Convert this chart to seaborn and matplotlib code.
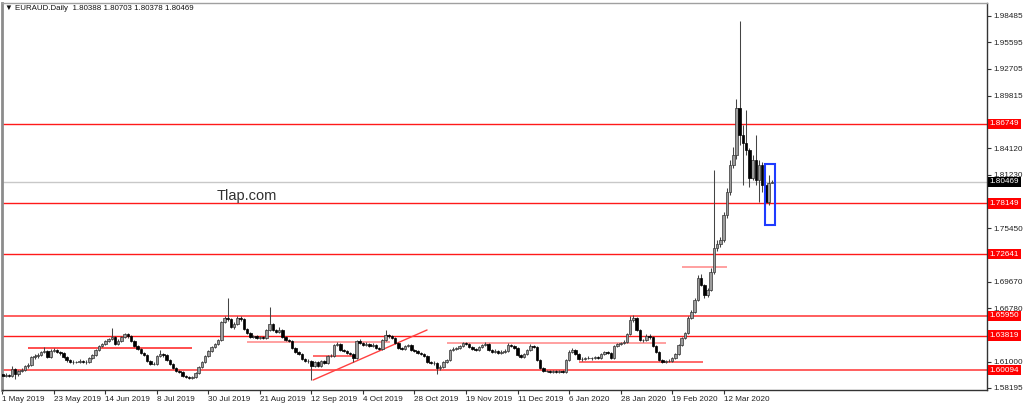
import numpy as np
import pandas as pd
import seaborn as sns
import matplotlib
matplotlib.use("Agg")
import matplotlib.pyplot as plt
import matplotlib.transforms as mtransforms
from matplotlib.patches import Rectangle

# daily closes, EURAUD (open = previous close)
first_open = 1.5966
close = [
    1.5944, 1.5955, 1.5944, 1.6020, 1.5966, 1.5998, 1.6009, 1.6053, 1.6063, 1.6150,
    1.6161, 1.6172, 1.6204, 1.6215, 1.6150, 1.6215, 1.6226, 1.6204, 1.6193, 1.6150,
    1.6118, 1.6096, 1.6096, 1.6096, 1.6107, 1.6096, 1.6096, 1.6139, 1.6172, 1.6226,
    1.6269, 1.6291, 1.6323, 1.6345, 1.6367, 1.6291, 1.6323, 1.6367, 1.6399, 1.6378,
    1.6323, 1.6269, 1.6237, 1.6193, 1.6172, 1.6107, 1.6074, 1.6074, 1.6161, 1.6183,
    1.6172, 1.6118, 1.6074, 1.6031, 1.5998, 1.5988, 1.5944, 1.5934, 1.5923, 1.5934,
    1.5977, 1.6042, 1.6096, 1.6161, 1.6215, 1.6258, 1.6291, 1.6334, 1.6530, 1.6573,
    1.6562, 1.6475, 1.6508, 1.6573, 1.6562, 1.6453, 1.6410, 1.6367, 1.6378, 1.6356,
    1.6367, 1.6356, 1.6443, 1.6508, 1.6443, 1.6421, 1.6443, 1.6367, 1.6334, 1.6323,
    1.6248, 1.6204, 1.6183, 1.6128, 1.6107, 1.6107, 1.6053, 1.6096, 1.6053, 1.6107,
    1.6085, 1.6161, 1.6161, 1.6280, 1.6291, 1.6226, 1.6215, 1.6193, 1.6183, 1.6139,
    1.6323, 1.6302, 1.6280, 1.6291, 1.6269, 1.6280, 1.6248, 1.6237, 1.6334, 1.6388,
    1.6378, 1.6356, 1.6302, 1.6248, 1.6237, 1.6269, 1.6280, 1.6226, 1.6215, 1.6193,
    1.6183, 1.6161, 1.6096, 1.6085, 1.6085, 1.6031, 1.6042, 1.6096, 1.6118, 1.6226,
    1.6237, 1.6248, 1.6269, 1.6302, 1.6291, 1.6258, 1.6237, 1.6226, 1.6258, 1.6280,
    1.6291, 1.6226, 1.6204, 1.6215, 1.6193, 1.6204, 1.6215, 1.6280, 1.6269, 1.6248,
    1.6172, 1.6150, 1.6183, 1.6226, 1.6269, 1.6258, 1.6118, 1.6031, 1.5998, 1.5998,
    1.5988, 1.5998, 1.5988, 1.5998, 1.5988, 1.6118, 1.6204, 1.6226, 1.6183, 1.6128,
    1.6128, 1.6139, 1.6139, 1.6139, 1.6150, 1.6139, 1.6183, 1.6204, 1.6193, 1.6139,
    1.6269, 1.6291, 1.6302, 1.6313, 1.6399, 1.6551, 1.6573, 1.6443, 1.6334, 1.6334,
    1.6378, 1.6367, 1.6269, 1.6204, 1.6118, 1.6096, 1.6107, 1.6107, 1.6139, 1.6183,
    1.6280, 1.6356, 1.6410, 1.6573, 1.6638, 1.6767, 1.7006, 1.6930, 1.6822, 1.6876,
    1.7071, 1.7331, 1.7375, 1.7417, 1.7688, 1.7937, 1.8229, 1.8338, 1.8847, 1.8554,
    1.8468, 1.8392, 1.8089, 1.8284, 1.8067, 1.8229, 1.8013, 1.7829, 1.80388, 1.80469,
]
high = [
    1.5985, 1.5975, 1.5970, 1.6050, 1.6032, 1.6015, 1.6030, 1.6068, 1.6085, 1.6165,
    1.6180, 1.6195, 1.6220, 1.6255, 1.6230, 1.6235, 1.6245, 1.6240, 1.6218, 1.6205,
    1.6160, 1.6130, 1.6115, 1.6112, 1.6125, 1.6120, 1.6118, 1.6150, 1.6185, 1.6240,
    1.6280, 1.6305, 1.6335, 1.6360, 1.6464, 1.6375, 1.6340, 1.6380, 1.6415, 1.6410,
    1.6385, 1.6330, 1.6280, 1.6245, 1.6205, 1.6180, 1.6115, 1.6095, 1.6175, 1.6226,
    1.6195, 1.6180, 1.6125, 1.6085, 1.6040, 1.6010, 1.5995, 1.5955, 1.5945, 1.5948,
    1.5990, 1.6055, 1.6110, 1.6172, 1.6228, 1.6270, 1.6305, 1.6350, 1.6545, 1.6595,
    1.6789, 1.6575, 1.6525, 1.6595, 1.6590, 1.6570, 1.6465, 1.6420, 1.6392, 1.6388,
    1.6380, 1.6378, 1.6455, 1.6692, 1.6520, 1.6455, 1.6470, 1.6452, 1.6375, 1.6345,
    1.6330, 1.6255, 1.6215, 1.6190, 1.6140, 1.6125, 1.6115, 1.6110, 1.6105, 1.6120,
    1.6118, 1.6172, 1.6180, 1.6295, 1.6310, 1.6300, 1.6240, 1.6228, 1.6205, 1.6190,
    1.6335, 1.6340, 1.6315, 1.6310, 1.6300, 1.6298, 1.6290, 1.6260, 1.6345, 1.6443,
    1.6400, 1.6390, 1.6365, 1.6310, 1.6260, 1.6285, 1.6295, 1.6288, 1.6238, 1.6225,
    1.6205, 1.6195, 1.6170, 1.6110, 1.6102, 1.6095, 1.6060, 1.6108, 1.6130, 1.6240,
    1.6255, 1.6262, 1.6285, 1.6318, 1.6312, 1.6300, 1.6268, 1.6250, 1.6272, 1.6295,
    1.6312, 1.6300, 1.6238, 1.6232, 1.6228, 1.6222, 1.6235, 1.6300, 1.6292, 1.6280,
    1.6255, 1.6185, 1.6195, 1.6240, 1.6290, 1.6280, 1.6265, 1.6125, 1.6040, 1.6012,
    1.6008, 1.6010, 1.6005, 1.6012, 1.6008, 1.6130, 1.6226, 1.6245, 1.6235, 1.6192,
    1.6145, 1.6155, 1.6160, 1.6152, 1.6165, 1.6160, 1.6195, 1.6220, 1.6215, 1.6200,
    1.6280, 1.6305, 1.6318, 1.6330, 1.6410, 1.6595, 1.6600, 1.6585, 1.6455, 1.6350,
    1.6400, 1.6395, 1.6375, 1.6280, 1.6210, 1.6125, 1.6120, 1.6125, 1.6155, 1.6195,
    1.6292, 1.6370, 1.6425, 1.6590, 1.6660, 1.6785, 1.7040, 1.7050, 1.6945, 1.6900,
    1.7110, 1.8175, 1.7420, 1.7450, 1.7720, 1.7980, 1.8280, 1.8420, 1.8944, 1.9789,
    1.8660, 1.8825, 1.8410, 1.8338, 1.8554, 1.8284, 1.8260, 1.8045, 1.8121, 1.80703,
]
low = [
    1.5915, 1.5930, 1.5932, 1.5938, 1.5915, 1.5950, 1.5985, 1.5995, 1.6035, 1.6055,
    1.6130, 1.6140, 1.6160, 1.6190, 1.6135, 1.6140, 1.6200, 1.6190, 1.6175, 1.6138,
    1.6100, 1.6080, 1.6078, 1.6080, 1.6085, 1.6082, 1.6078, 1.6088, 1.6130, 1.6165,
    1.6215, 1.6255, 1.6280, 1.6310, 1.6335, 1.6280, 1.6280, 1.6315, 1.6355, 1.6360,
    1.6310, 1.6255, 1.6225, 1.6180, 1.6160, 1.6095, 1.6060, 1.6062, 1.6068, 1.6150,
    1.6155, 1.6105, 1.6060, 1.6020, 1.5985, 1.5975, 1.5932, 1.5920, 1.5910, 1.5912,
    1.5925, 1.5970, 1.6035, 1.6088, 1.6150, 1.6205, 1.6245, 1.6280, 1.6325, 1.6515,
    1.6540, 1.6460, 1.6450, 1.6495, 1.6540, 1.6440, 1.6395, 1.6355, 1.6352, 1.6345,
    1.6345, 1.6340, 1.6350, 1.6430, 1.6430, 1.6405, 1.6410, 1.6355, 1.6322, 1.6310,
    1.6235, 1.6190, 1.6170, 1.6115, 1.6095, 1.6090, 1.5901, 1.6040, 1.6040, 1.6045,
    1.6070, 1.6078, 1.6150, 1.6155, 1.6270, 1.6215, 1.6200, 1.6180, 1.6170, 1.6096,
    1.6130, 1.6290, 1.6268, 1.6270, 1.6255, 1.6260, 1.6235, 1.6225, 1.6230, 1.6325,
    1.6360, 1.6340, 1.6290, 1.6235, 1.6225, 1.6230, 1.6258, 1.6215, 1.6200, 1.6180,
    1.6170, 1.6148, 1.6085, 1.6070, 1.6068, 1.5966, 1.6010, 1.6035, 1.6085, 1.6110,
    1.6215, 1.6225, 1.6240, 1.6260, 1.6278, 1.6245, 1.6225, 1.6212, 1.6218, 1.6250,
    1.6270, 1.6212, 1.6190, 1.6195, 1.6180, 1.6182, 1.6195, 1.6205, 1.6255, 1.6235,
    1.6160, 1.6138, 1.6140, 1.6175, 1.6215, 1.6245, 1.6105, 1.6020, 1.5985, 1.5985,
    1.5975, 1.5978, 1.5975, 1.5980, 1.5972, 1.5980, 1.6110, 1.6195, 1.6170, 1.6115,
    1.6112, 1.6118, 1.6125, 1.6122, 1.6128, 1.6125, 1.6130, 1.6172, 1.6180, 1.6125,
    1.6130, 1.6258, 1.6280, 1.6290, 1.6305, 1.6390, 1.6530, 1.6430, 1.6320, 1.6318,
    1.6325, 1.6350, 1.6255, 1.6190, 1.6105, 1.6082, 1.6088, 1.6092, 1.6098, 1.6130,
    1.6175, 1.6270, 1.6345, 1.6400, 1.6560, 1.6625, 1.6760, 1.6915, 1.6790, 1.6800,
    1.6860, 1.7050, 1.7300, 1.7340, 1.7400, 1.7660, 1.7910, 1.8200, 1.8300, 1.8450,
    1.8013, 1.8340, 1.7990, 1.8067, 1.8013, 1.7830, 1.7940, 1.7666, 1.7800, 1.80378,
]

date_labels = ["1 May 2019", "23 May 2019", "14 Jun 2019", "8 Jul 2019", "30 Jul 2019",
               "21 Aug 2019", "12 Sep 2019", "4 Oct 2019", "28 Oct 2019", "19 Nov 2019",
               "11 Dec 2019", "6 Jan 2020", "28 Jan 2020", "19 Feb 2020", "12 Mar 2020"]
price_ticks = [1.98485, 1.95595, 1.92705, 1.89815, 1.84120, 1.81230,
               1.75450, 1.69670, 1.66780, 1.61000, 1.58195]

# horizontal support / resistance levels across the whole chart
levels = [1.86749, 1.78149, 1.72641, 1.65950, 1.63819, 1.60094]
level_alpha = [1.0, 1.0, 1.0, 0.7, 1.0, 0.7]
last_price = 1.80469

# short drawn segments: (price, from bar, to bar, colour)
segments = [
    (1.6244, 8.0, 58.9, "#ff3030"),
    (1.6316, 76.0, 120.4, "#ff9090"),
    (1.6164, 96.5, 109.5, "#ff5050"),
    (1.6305, 138.1, 206.1, "#ff9090"),
    (1.6096, 179.1, 217.6, "#ff5050"),
    (1.7128, 211.0, 225.0, "#ff9090"),
]
trend_bars = [96.5, 131.9]
trend_prices = [1.5901, 1.6443]

sns.set_theme(style="white")
plt.rcParams["font.family"] = ["Liberation Sans", "DejaVu Sans"]

df = pd.DataFrame({"close": close, "high": high, "low": low})
df["open"] = df["close"].shift(1).fillna(first_open)
df["bar"] = np.arange(len(df))
df["up"] = df["close"] >= df["open"]
df["bottom"] = df[["open", "close"]].min(axis=1)
df["body"] = (df["close"] - df["open"]).abs().clip(lower=0.0004)

fig = plt.figure(figsize=(10.24, 4.07), dpi=100)
ax = fig.add_axes([2 / 1024, 17 / 407, 985 / 1024, 387 / 407])

# level lines
for lv, a in zip(levels, level_alpha):
    ax.axhline(lv, color="#ff1a1a", lw=1.0 if a == 1.0 else 1.4, alpha=a, zorder=1)
ax.axhline(last_price, color="#c8c8c8", lw=1.0, zorder=1)
for p, x0, x1, c in segments:
    ax.hlines(p, x0, x1, color=c, lw=1.2, zorder=1)
ax.plot(trend_bars, trend_prices, color="#ff4040", lw=1.0, zorder=1)

# candles
ax.vlines(df["bar"], df["low"], df["high"], color="#444444", lw=0.75, zorder=2)
up = df[df["up"]]
dn = df[~df["up"]]
ax.bar(up["bar"], up["body"], bottom=up["bottom"], width=0.78,
       color="#9c9c9c", edgecolor="#333333", linewidth=0.5, zorder=3)
ax.bar(dn["bar"], dn["body"], bottom=dn["bottom"], width=0.78,
       color="#000000", edgecolor="#000000", linewidth=0.5, zorder=3)

# blue box around the last candles
ax.add_patch(Rectangle((236.9, 1.7580), 3.1, 0.0660, fill=False,
                       edgecolor="#1f3cff", lw=1.5, zorder=4))

ax.text(76, 1.7894, "Tlap.com", fontsize=10.5, color="#303030",
        ha="center", va="center")

ax.set_xlim(-0.1, 305.8)
ax.set_ylim(1.5793, 1.9984)

ax.set_xticks(range(0, 16 * len(date_labels), 16))
ax.set_xticklabels(date_labels, ha="left")
ax.yaxis.tick_right()
ax.set_yticks(price_ticks)
ax.set_yticklabels([f"{t:.5f}" for t in price_ticks])
ax.tick_params(axis="x", bottom=True, length=3, width=0.8, pad=1.5,
               labelsize=5.9, colors="#333333")
ax.tick_params(axis="y", right=True, left=False, length=3, width=0.8, pad=1.5,
               labelsize=5.9, colors="#333333")
for lab in ax.get_xticklabels() + ax.get_yticklabels():
    lab.set_color("#222222")

for side in ["right", "bottom"]:
    ax.spines[side].set_color("#333333")
    ax.spines[side].set_linewidth(1.0)
ax.spines["left"].set_color("#8c8c8c")
ax.spines["left"].set_linewidth(2.0)
ax.spines["top"].set_color("#a0a0a0")
ax.spines["top"].set_linewidth(1.0)

# price labels on the right axis
trans = mtransforms.blended_transform_factory(ax.transAxes, ax.transData)
for lv in levels:
    ax.text(1.0025, lv, f"{lv:.5f}", transform=trans, fontsize=5.9, color="white",
            ha="left", va="center", clip_on=False, zorder=6,
            bbox=dict(boxstyle="square,pad=0.22", fc="#ff0000", ec="none"))
ax.text(1.0025, last_price, f"{last_price:.5f}", transform=trans, fontsize=5.9,
        color="white", ha="left", va="center", clip_on=False, zorder=6,
        bbox=dict(boxstyle="square,pad=0.22", fc="#000000", ec="none"))

fig.text(5 / 1024, 1 - 8.5 / 407, "\u25bc EURAUD.Daily  1.80388 1.80703 1.80378 1.80469",
         fontsize=5.7, color="#111111", ha="left", va="center")

fig.savefig("out.png", dpi=100)
